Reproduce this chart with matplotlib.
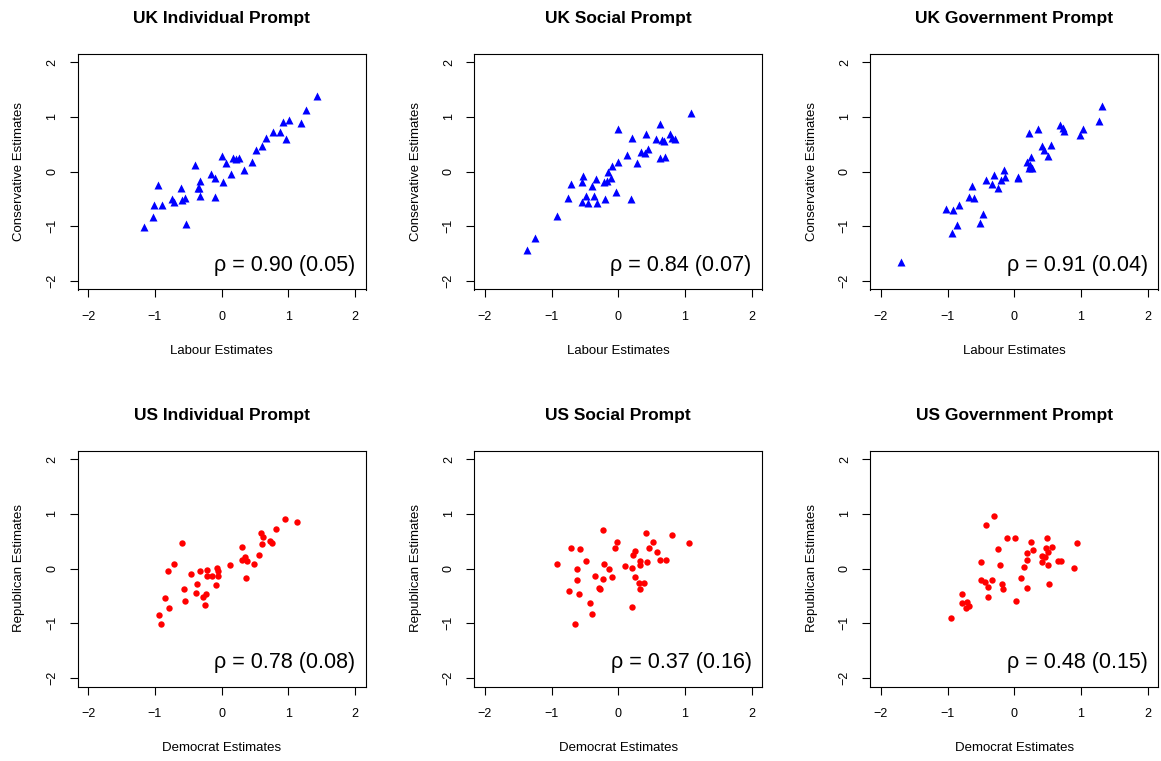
import numpy as np
import matplotlib
matplotlib.use("Agg")
import matplotlib.pyplot as plt

plt.rcParams['font.family'] = ['Liberation Sans', 'DejaVu Sans']

# ---- data ----
uk_ind_x = [1.435, 1.27, 1.195, 1.005, 0.925, 0.875, 0.965, 0.765, 0.665, 0.60,
            0.52, 0.455, 0.335, 0.26, 0.22, 0.165, 0.145, 0.06, 0.0, 0.02,
            -0.10, -0.16, -0.095, -0.32, -0.34, -0.36, -0.33, -0.40, -0.61, -0.545,
            -0.595, -0.54, -0.745, -0.72, -0.89, -1.01, -0.95, -1.035, -1.16]
uk_ind_y = [1.39, 1.12, 0.88, 0.94, 0.91, 0.73, 0.59, 0.72, 0.62, 0.47,
            0.40, 0.18, 0.03, 0.24, 0.23, 0.24, -0.05, 0.16, 0.28, -0.20,
            -0.12, -0.05, -0.47, -0.18, -0.30, -0.31, -0.45, 0.12, -0.30, -0.48,
            -0.53, -0.96, -0.50, -0.56, -0.62, -0.61, -0.24, -0.83, -1.02]

uk_soc_x = [1.09, 0.63, 0.78, 0.81, 0.85, 0.57, 0.66, 0.68, 0.415, 0.205,
            0.0, 0.45, 0.34, 0.40, 0.135, 0.625, 0.70, 0.275, -0.01, -0.09,
            -0.155, -0.105, -0.175, -0.22, -0.335, -0.39, -0.535, -0.545, -0.71, -0.04,
            0.185, -0.195, -0.36, -0.49, -0.545, -0.45, -0.325, -0.755, -0.92, -1.245,
            -1.37]
uk_soc_y = [1.07, 0.87, 0.68, 0.62, 0.59, 0.59, 0.57, 0.55, 0.68, 0.62,
            0.78, 0.42, 0.36, 0.33, 0.30, 0.24, 0.26, 0.15, 0.18, 0.10,
            0.0, -0.12, -0.17, -0.19, -0.14, -0.27, -0.08, -0.20, -0.22, -0.38,
            -0.51, -0.51, -0.45, -0.45, -0.55, -0.58, -0.58, -0.49, -0.82, -1.22,
            -1.43]

uk_gov_x = [1.315, 1.265, 1.025, 0.98, 0.68, 0.735, 0.75, 0.35, 0.22, 0.415,
            0.555, 0.44, 0.505, 0.255, 0.195, 0.235, 0.26, 0.22, 0.055, 0.06,
            -0.16, -0.145, -0.20, -0.305, -0.335, -0.25, -0.42, -0.635, -0.685, -0.60,
            -0.47, -0.51, -0.825, -0.925, -1.02, -0.865, -0.94, -1.695]
uk_gov_y = [1.20, 0.92, 0.77, 0.67, 0.86, 0.80, 0.75, 0.78, 0.70, 0.47,
            0.48, 0.39, 0.28, 0.27, 0.18, 0.12, 0.06, 0.07, -0.10, -0.12,
            0.03, -0.10, -0.15, -0.07, -0.23, -0.30, -0.15, -0.27, -0.47, -0.48,
            -0.78, -0.95, -0.62, -0.70, -0.69, -0.98, -1.12, -1.65]

us_ind_x = [1.125, 0.95, 0.81, 0.59, 0.62, 0.725, 0.755, 0.61, 0.555, 0.305,
            0.355, 0.30, 0.375, 0.485, 0.365, 0.13, -0.07, -0.06, -0.055, -0.15,
            -0.215, -0.22, -0.08, -0.325, -0.455, -0.375, -0.39, -0.23, -0.275, -0.255,
            -0.57, -0.555, -0.595, -0.72, -0.805, -0.855, -0.79, -0.945, -0.915]
us_ind_y = [0.86, 0.90, 0.73, 0.65, 0.58, 0.51, 0.47, 0.445, 0.24, 0.39,
            0.21, 0.15, 0.13, 0.09, -0.17, 0.07, 0.01, -0.04, -0.13, -0.13,
            -0.02, -0.13, -0.30, -0.05, -0.10, -0.29, -0.44, -0.47, -0.52, -0.67,
            -0.38, -0.59, 0.46, 0.09, -0.04, -0.54, -0.73, -0.85, -1.01]

us_soc_x = [1.055, 0.81, 0.415, 0.525, 0.465, 0.575, 0.62, 0.72, 0.43, 0.325,
            0.33, 0.245, 0.22, 0.10, 0.21, 0.245, 0.31, 0.38, 0.33, 0.20,
            -0.02, -0.045, -0.225, -0.22, -0.135, -0.095, -0.225, -0.345, -0.295, -0.275,
            -0.485, -0.58, -0.715, -0.915, -0.62, -0.625, -0.74, -0.595, -0.42, -0.40,
            -0.645]
us_soc_y = [0.475, 0.62, 0.65, 0.49, 0.38, 0.30, 0.15, 0.16, 0.11, 0.13,
            0.06, 0.32, 0.24, 0.05, 0.01, -0.16, -0.26, -0.26, -0.37, -0.71,
            0.48, 0.37, 0.70, 0.09, -0.01, -0.15, -0.20, -0.13, -0.35, -0.38,
            0.14, 0.35, 0.38, 0.08, -0.01, -0.21, -0.41, -0.46, -0.63, -0.84,
            -1.02]

us_gov_x = [0.945, 0.89, 0.49, 0.475, 0.57, 0.51, 0.42, 0.465, 0.415, 0.51,
            0.66, 0.705, 0.525, 0.245, 0.275, 0.19, 0.19, 0.145, 0.095, 0.185,
            0.025, 0.005, -0.115, -0.30, -0.425, -0.245, -0.22, -0.505, -0.50, -0.44,
            -0.39, -0.33, -0.18, -0.175, -0.40, -0.78, -0.785, -0.705, -0.725, -0.675,
            -0.95]
us_gov_y = [0.47, 0.01, 0.55, 0.38, 0.39, 0.30, 0.23, 0.21, 0.11, 0.06,
            0.13, 0.13, -0.29, 0.49, 0.34, 0.28, 0.16, 0.03, -0.18, -0.35,
            -0.60, 0.55, 0.55, 0.97, 0.80, 0.35, 0.07, 0.12, -0.21, -0.25,
            -0.34, -0.21, -0.29, -0.38, -0.53, -0.46, -0.64, -0.62, -0.73, -0.69,
            -0.91]

titles = ["UK Individual Prompt", "UK Social Prompt", "UK Government Prompt",
          "US Individual Prompt", "US Social Prompt", "US Government Prompt"]
rho_labels = ["ρ = 0.90 (0.05)", "ρ = 0.84 (0.07)", "ρ = 0.91 (0.04)",
              "ρ = 0.78 (0.08)", "ρ = 0.37 (0.16)", "ρ = 0.48 (0.15)"]
xlabels = ["Labour Estimates"] * 3 + ["Democrat Estimates"] * 3
ylabels = ["Conservative Estimates"] * 3 + ["Republican Estimates"] * 3
xs = [uk_ind_x, uk_soc_x, uk_gov_x, us_ind_x, us_soc_x, us_gov_x]
ys = [uk_ind_y, uk_soc_y, uk_gov_y, us_ind_y, us_soc_y, us_gov_y]
ticks = [-2, -1, 0, 1, 2]

fig = plt.figure(figsize=(11.61, 7.61), dpi=100)

lefts = [77.6, 474.3, 870.3]
bottoms = [761 - 289.5, 761 - 686.5]
w, h = 288 / 1161, 236 / 761

for i in range(6):
    row, col = divmod(i, 3)
    ax = fig.add_axes([lefts[col] / 1161, bottoms[row] / 761, w, h])
    if row == 0:
        ax.plot(xs[i], ys[i], linestyle='none', marker='^', ms=6.2,
                color='#0000ff', mec='none')
    else:
        ax.plot(xs[i], ys[i], linestyle='none', marker='o', ms=4.6,
                color='#ff0000', mec='none')
    ax.set_xlim(-2.16, 2.16)
    ax.set_ylim(-2.16, 2.16)
    ax.set_xticks(ticks)
    ax.set_yticks(ticks)
    ax.tick_params(direction='out', length=5.5, width=0.8, labelsize=9,
                   color='black')
    ax.tick_params(axis='x', pad=10)
    ax.tick_params(axis='y', pad=8.5)
    for lab in ax.get_yticklabels():
        lab.set_rotation(90)
        lab.set_va('center')
    for sp in ax.spines.values():
        sp.set_linewidth(0.8)
    ax.set_title(titles[i], fontsize=12.5, fontweight='bold', pad=22)
    ax.set_xlabel(xlabels[i], fontsize=9.5, labelpad=16)
    ax.set_ylabel(ylabels[i], fontsize=9.5, labelpad=15)
    ax.text(2.0, -1.72, rho_labels[i], ha='right', va='center', fontsize=15.5)

fig.savefig("out.png", dpi=100)
